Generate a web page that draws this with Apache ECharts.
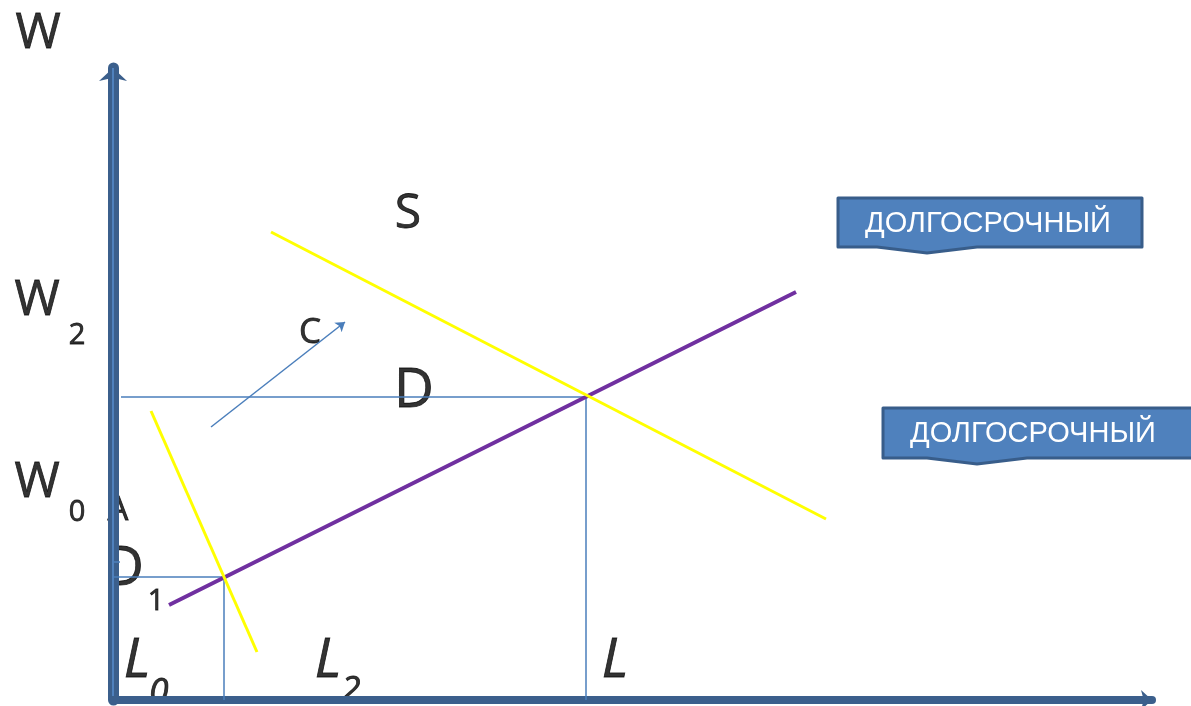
<!DOCTYPE html>
<html lang="ru">
<head>
    <meta charset="UTF-8">
    <title>Рынок труда - S и D</title>
    <style type="text/css">
        *{ margin: 0; padding: 0; }
        #main{ width: 1191px; height: 706px; position: absolute; background: #fff; }
    </style>
</head>
<body>
    <div id="main"></div>
    <script src="https://cdn.jsdelivr.net/npm/echarts@6/dist/echarts.min.js"></script>
    <script type="text/javascript">
        // линии графика (единицы: L по горизонтали, W по вертикали)
        var supplyS  = [[5.6, 9.5], [68.3, 40.8]];
        var demandD  = [[15.8, 46.8], [71.3, 18.1]];
        var demandD1 = [[3.8, 28.9], [14.4, 4.8]];
        var pointE   = [47.3, 30.3];
        var pointE1  = [11.1, 12.3];
        var arrowC   = [[9.8, 27.3], [23.2, 37.8]];

        // подписи: текст, координата, размер шрифта, курсив
        var labels = [
            ['W', [-7.5, 66.6], 49, false],
            ['S', [29.5, 48.6], 48, false],
            ['W', [-7.6, 39.9], 49, false],
            ['2', [-3.6, 36.4], 29, false],
            ['C', [19.7, 36.7], 35, false],
            ['D', [30.1, 30.9], 55, false],
            ['W', [-7.6, 21.7], 49, false],
            ['0', [-3.6, 18.7], 29, false],
            ['A', [0.5, 18.9], 33, false],
            ['D', [1.1, 13.1], 55, false],
            ['1', [4.3, 9.8], 29, false],
            ['L', [2.4, 3.9], 55, true],
            ['0', [4.6, 0.7], 35, true],
            ['L', [21.5, 3.9], 55, true],
            ['2', [23.8, 0.9], 35, true],
            ['L', [50.2, 3.9], 55, true]
        ];
        var calloutText = 'ДОЛГОСРОЧНЫЙ';

        var myChart = echarts.init(document.getElementById('main'));

        var thinBlue = '#4a7ebb';
        function segment(a, b, color, width) {
            return {
                type: 'line',
                data: [a, b],
                symbol: 'none',
                clip: false,
                silent: true,
                lineStyle: { color: color, width: width },
                z: 3
            };
        }

        function callout(x, y, w, h, tipX) {
            return [{
                type: 'polygon',
                shape: {
                    points: [[x, y], [x + w, y], [x + w, y + h],
                             [tipX + 50, y + h], [tipX, y + h + 6], [tipX - 50, y + h],
                             [x, y + h]]
                },
                style: { fill: '#4f81bd', stroke: '#385d8a', lineWidth: 3, lineJoin: 'round' },
                z: 10
            }, {
                type: 'text',
                x: x + 27,
                y: y + h / 2 + 1,
                style: {
                    text: calloutText,
                    fill: '#ffffff',
                    font: '29px "Liberation Sans", Arial, sans-serif',
                    verticalAlign: 'middle'
                },
                z: 11
            }];
        }

        var series = [
            segment([0.8, pointE[1]], pointE, thinBlue, 1.5),
            segment(pointE, [pointE[0], 0], thinBlue, 1.5),
            segment([-0.5, pointE1[1]], pointE1, thinBlue, 1.5),
            segment(pointE1, [pointE1[0], 0], thinBlue, 1.5),
            segment(supplyS[0], supplyS[1], '#7030a0', 4),
            segment(demandD[0], demandD[1], '#ffff00', 3),
            segment(demandD1[0], demandD1[1], '#ffff00', 3),
            // светлая полоса внутри оси W
            segment([0, 0.4], [0, 63.2], '#4f81bd', 2),
            segment([-0.7, 13.8], [0.7, 13.8], '#4f81bd', 1.5),
            {
                type: 'lines',
                coordinateSystem: 'cartesian2d',
                symbol: ['none', 'arrow'],
                symbolSize: 9,
                silent: true,
                lineStyle: { color: thinBlue, width: 1.5, opacity: 1 },
                data: [{ coords: arrowC }],
                z: 3
            },
            {
                type: 'scatter',
                symbolSize: 0,
                clip: false,
                silent: true,
                z: -1,
                data: labels.map(function (l) {
                    return {
                        value: l[1],
                        label: {
                            show: true,
                            position: 'inside',
                            formatter: l[0],
                            color: '#000',
                            textBorderColor: '#000',
                            textBorderWidth: 0.8,
                            fontFamily: '"Open Sans", sans-serif',
                            fontSize: l[2],
                            fontStyle: l[3] ? 'italic' : 'normal'
                        }
                    };
                })
            }
        ];

        var option = {
            animation: false,
            grid: { left: 113, right: 39, top: 68, bottom: 6 },
            xAxis: {
                type: 'value', min: 0, max: 103.9,
                splitLine: { show: false }, axisTick: { show: false }, axisLabel: { show: false },
                axisLine: {
                    show: true, symbol: ['none', 'arrow'], symbolSize: [15, 11],
                    lineStyle: { color: '#3b5f8c', width: 8 }
                }
            },
            yAxis: {
                type: 'value', min: 0, max: 63.2,
                splitLine: { show: false }, axisTick: { show: false }, axisLabel: { show: false },
                axisLine: {
                    show: true, symbol: ['none', 'arrow'], symbolSize: [21, 13],
                    lineStyle: { color: '#3b5f8c', width: 11 }
                }
            },
            graphic: callout(838, 198, 304, 49, 927).concat(callout(883, 408, 320, 50, 977)),
            series: series
        };

        myChart.setOption(option);
    </script>
</body>
</html>
